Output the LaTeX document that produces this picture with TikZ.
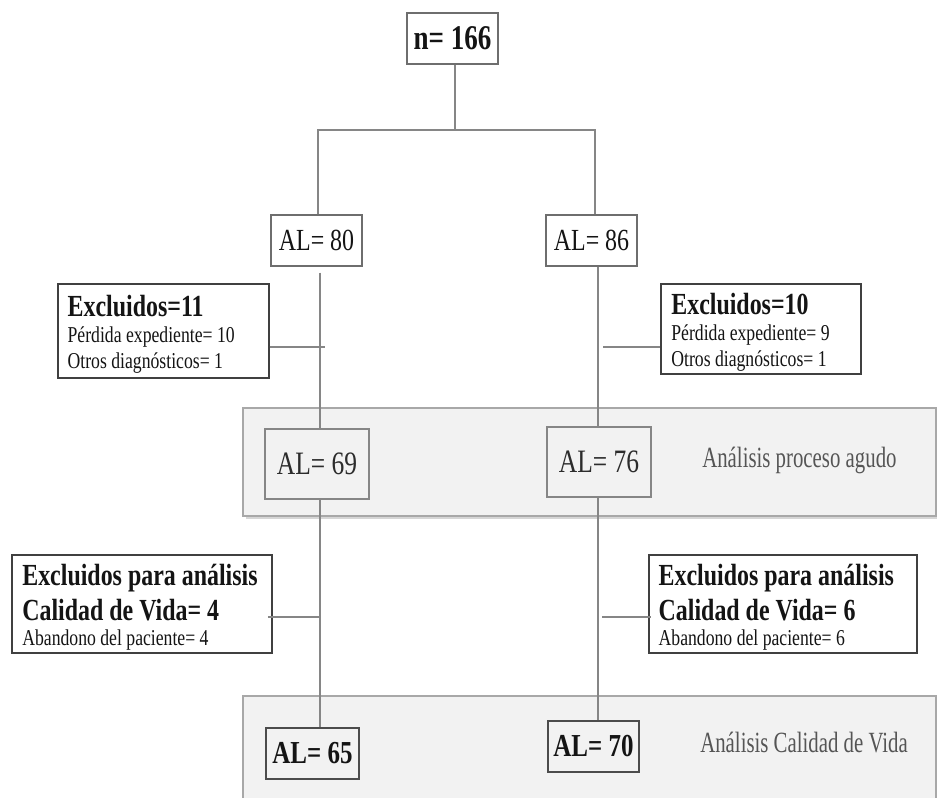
\documentclass[tikz,border=0pt]{standalone}
\usepackage{fontspec}
\setmainfont{Liberation Serif}[FakeStretch=0.78]
\newfontfamily\condfont{Liberation Serif}[FakeStretch=0.71]
\definecolor{linegray}{HTML}{868686}
\definecolor{boxgray}{HTML}{6E6E6E}
\definecolor{bandfill}{HTML}{F2F2F2}
\definecolor{banddraw}{HTML}{A8A8A8}
\definecolor{shadowgray}{HTML}{D6D6D6}
\definecolor{labelgray}{HTML}{555555}
\definecolor{txt}{HTML}{141414}
\usetikzlibrary{shadows}
\tikzset{
  conn/.style={draw=linegray, line width=2.2pt},
  topbox/.style={draw=boxgray, line width=1.1pt, fill=white, inner sep=0pt, text=txt,
    minimum width=68.25pt, minimum height=38.25pt, font=\fontsize{23}{26}\selectfont},
  exbox/.style={draw=black!75, line width=0.9pt, fill=white, inner sep=0pt},
  extext/.style={anchor=west, align=left, inner sep=0pt, text=txt},
  graybox/.style={draw=linegray, line width=1.4pt, fill=bandfill, inner sep=0pt, text=txt!90,
    minimum width=78pt, minimum height=52.5pt, font=\fontsize{24.5}{27}\selectfont},
  qolbox/.style={draw=black!70, line width=1.3pt, fill=bandfill, inner sep=0pt, text=txt,
    minimum height=38.25pt, font=\fontsize{24}{27}\selectfont\bfseries,
    drop shadow={shadow xshift=1pt, shadow yshift=-1pt, fill=black!30}},
  band/.style={draw=banddraw, line width=1.3pt, fill=bandfill},
  bandlabel/.style={anchor=base west, inner sep=0pt, text=labelgray,
    font=\condfont\fontsize{22}{25}\selectfont},
}
\begin{document}
\begin{tikzpicture}[x=0.75pt,y=-0.75pt]
\useasboundingbox (0,0) rectangle (937,798);
\fill[white] (0,0) rectangle (937,798);

% background bands
\fill[shadowgray] (246,411) rectangle (940,519);
\path[band] (243,408) rectangle (936,516);
\fill[shadowgray] (246,699) rectangle (940,810);
\path[band] (243,696) rectangle (936,806);

% top
\node[topbox, font=\fontsize{26}{29}\selectfont\bfseries] (n166) at (452.5,38.5) {n= 166};
\node[topbox] (a80) at (316.5,240.5) {AL= 80};
\node[topbox] (a86) at (591.5,240.5) {AL= 86};

\coordinate (split) at (455,130);
\coordinate (Lx) at (320,0);
\coordinate (Rx) at (598,0);

% acute phase boxes
\node[graybox] (a69) at (317,464) {AL= 69};
\node[graybox] (a76) at (599,462) {AL= 76};
\node[bandlabel] (lab1) at (702,467) {Análisis proceso agudo};

% quality of life boxes
\node[qolbox, minimum width=69.75pt] (a65) at (312.5,753.5) {AL= 65};
\node[qolbox, minimum width=68.25pt] (a70) at (593.5,746.5) {AL= 70};
\node[bandlabel] (lab2) at (700,752) {Análisis Calidad de Vida};

% excluded boxes
\node[exbox, minimum width=158.25pt, minimum height=70.5pt] (e11) at (163.5,331) {};
\node[extext, font=\fontsize{17}{19.5}\selectfont] (e11t) at ([xshift=7.5pt,yshift=-2.5pt]e11.west)
  {{\fontsize{23}{26}\selectfont\bfseries Excluidos=11}\\Pérdida expediente= 10\\Otros diagnósticos= 1};
\node[exbox, minimum width=150pt, minimum height=67.5pt] (e10) at (761,329) {};
\node[extext, font=\fontsize{17}{19.5}\selectfont] (e10t) at ([xshift=8pt,yshift=-2.5pt]e10.west)
  {{\fontsize{23}{26}\selectfont\bfseries Excluidos=10}\\Pérdida expediente= 9\\Otros diagnósticos= 1};
\node[exbox, minimum width=195pt, minimum height=73.5pt] (q4) at (142,604) {};
\node[extext, font=\fontsize{17}{19}\selectfont] (q4t) at ([xshift=8pt,yshift=-2.5pt]q4.west)
  {{\fontsize{23}{26}\selectfont\bfseries Excluidos para análisis}\\[4pt]{\fontsize{23}{26}\selectfont\bfseries Calidad de Vida= 4}\\Abandono del paciente= 4};
\node[exbox, minimum width=201pt, minimum height=73.5pt] (q6) at (783,604) {};
\node[extext, font=\fontsize{17}{19}\selectfont] (q6t) at ([xshift=7.5pt,yshift=-2.5pt]q6.west)
  {{\fontsize{23}{26}\selectfont\bfseries Excluidos para análisis}\\[4pt]{\fontsize{23}{26}\selectfont\bfseries Calidad de Vida= 6}\\Abandono del paciente= 6};

% connectors
\draw[conn] (n166.south -| split) -- (split);
\draw[conn] (a80.north -| 318,0) |- (split) -| (a86.north -| 595,0);
\draw[conn] ([yshift=-4.5pt]a80.south -| Lx) -- (a69.north -| Lx);
\draw[conn] (a69.south -| Lx) -- (a65.north -| Lx);
\draw[conn] (a86.south -| Rx) -- (a76.north -| Rx);
\draw[conn] (a76.south -| Rx) -- (a70.north -| Rx);

\coordinate (j11) at (325,347);
\coordinate (j10) at (603,347);
\coordinate (j4) at (321,617);
\coordinate (j6) at (602,617);
\draw[conn] (e11.east |- j11) -- (j11);
\draw[conn] (j10) -- (e10.west |- j10);
\draw[conn] ([xshift=-3.5pt]q4.east |- j4) -- (j4);
\draw[conn] (j6) -- ([xshift=2pt]q6.west |- j6);
\end{tikzpicture}
\end{document}
